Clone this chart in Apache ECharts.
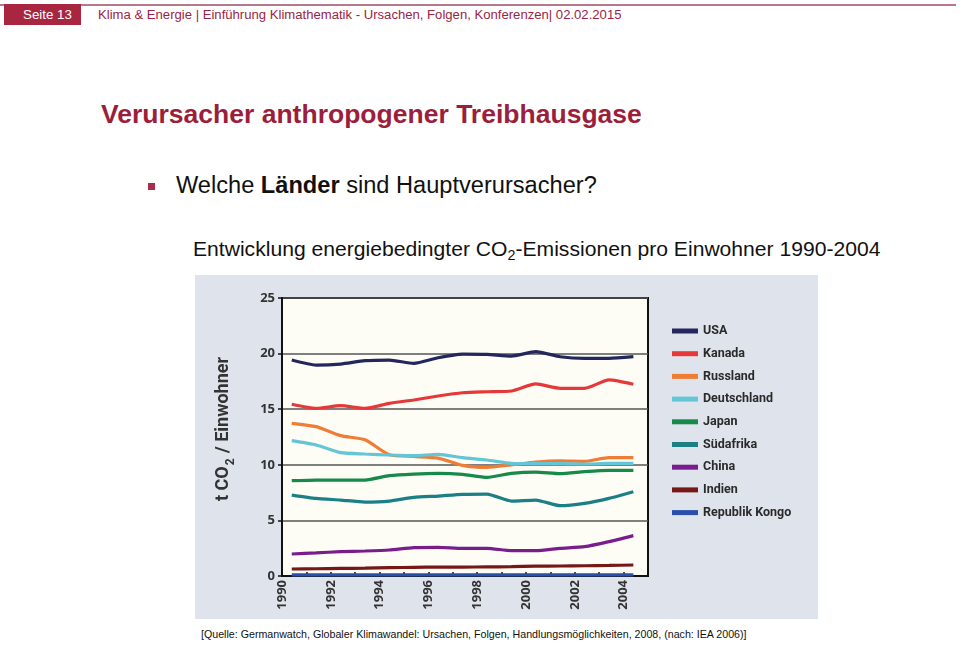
<!DOCTYPE html>
<html><head><meta charset="utf-8">
<script src="https://cdn.jsdelivr.net/npm/echarts@6/dist/echarts.min.js"></script>
<style>
html,body{margin:0;padding:0;background:#fff;width:960px;height:645px;overflow:hidden;}
.t{position:absolute;white-space:nowrap;line-height:1;font-family:"Liberation Sans",Arial,sans-serif;}
#topline{position:absolute;left:0;top:4px;width:956px;height:2px;background:#b7788a;}
#box{position:absolute;left:4px;top:4px;width:77px;height:21px;background:#a8263f;}
#bullet{position:absolute;left:148px;top:183px;width:7px;height:7px;background:#a82f4c;}
#chart{position:absolute;left:195px;top:275px;width:623px;height:344px;background:#dfe4ec;}
</style></head>
<body>
<div id="topline"></div>
<div id="box"></div>
<div class="t" id="seite" style="color:#fff">Seite 13</div>
<div class="t" id="hdr" style="color:#9a2446">Klima &amp; Energie | Einführung Klimathematik - Ursachen, Folgen, Konferenzen| 02.02.2015</div>
<div class="t" id="title" style="color:#9b1f3d;font-weight:bold">Verursacher anthropogener Treibhausgase</div>
<div id="bullet"></div>
<div class="t" id="q" style="color:#111">Welche <b>Länder</b> sind Hauptverursacher?</div>
<div class="t" id="sub" style="color:#111">Entwicklung energiebedingter CO<span style="font-size:0.68em;position:relative;top:0.32em">2</span>-Emissionen pro Einwohner 1990-2004</div>
<div class="t" id="src" style="color:#111">[Quelle: Germanwatch, Globaler Klimawandel: Ursachen, Folgen, Handlungsmöglichkeiten, 2008, (nach: IEA 2006)]</div>
<div id="chart"></div>
<script>
// ---- data ----
const years = [1990,1991,1992,1993,1994,1995,1996,1997,1998,1999,2000,2001,2002,2003,2004];
const countries = ['USA','Kanada','Russland','Deutschland','Japan','Südafrika','China','Indien','Republik Kongo'];
const usa       = [19.42,18.97,19.06,19.36,19.42,19.12,19.63,19.96,19.93,19.78,20.17,19.72,19.57,19.57,19.72];
const kanada    = [15.44,15.08,15.32,15.08,15.53,15.83,16.19,16.48,16.57,16.64,17.27,16.88,16.88,17.63,17.24];
const russland  = [13.73,13.43,12.62,12.25,10.9,10.75,10.6,9.95,9.77,10.0,10.25,10.35,10.3,10.65,10.65];
const deutschland=[12.17,11.78,11.09,10.97,10.88,10.82,10.94,10.64,10.43,10.13,10.1,10.1,10.07,10.12,10.12];
const japan     = [8.57,8.63,8.63,8.63,9.02,9.17,9.23,9.14,8.87,9.23,9.35,9.2,9.38,9.5,9.5];
const suedafrika= [7.28,6.98,6.83,6.65,6.74,7.07,7.19,7.34,7.37,6.74,6.83,6.32,6.53,6.98,7.58];
const china     = [1.98,2.08,2.19,2.25,2.34,2.55,2.58,2.49,2.49,2.28,2.28,2.49,2.64,3.09,3.63];
const indien    = [0.63,0.65,0.68,0.7,0.75,0.78,0.8,0.8,0.82,0.84,0.88,0.9,0.92,0.95,0.99];
const kongo     = [0.1,0.1,0.1,0.1,0.1,0.1,0.1,0.1,0.1,0.1,0.1,0.1,0.1,0.1,0.1];
const seriesValues = [usa,kanada,russland,deutschland,japan,suedafrika,china,indien,kongo];
const colors = ['#24265e','#e63838','#ef7d35','#63c5d6','#17894a','#1b7f86','#7a1d8c','#761818','#2a4faa'];
const yTicks = [0,5,10,15,20,25];
const xLabelYears = [1990,1992,1994,1996,1998,2000,2002,2004];

// ---- slide text placement ----
function place(id, left, baseline, width){
  const el = document.getElementById(id);
  el.style.fontSize = '100px';
  const w = el.getBoundingClientRect().width;
  const size = 100*width/w;
  el.style.fontSize = size+'px';
  el.style.left = left+'px';
  el.style.top = (baseline - 0.8465*size)+'px';
}
place('seite', 23, 19.6, 49);
place('hdr', 98, 19.3, 524);
place('title', 101, 123.3, 541);
place('q', 176, 194.3, 421);
place('sub', 193, 255.7, 688);
place('src', 201, 638.5, 546);

// ---- chart ----
const FF = '"Open Sans","Noto Sans",sans-serif';
const FN = 'Roboto,"Open Sans",sans-serif';
const chart = echarts.init(document.getElementById('chart'), null, {renderer:'canvas'});
const off = 0.4;
chart.setOption({
  animation:false,
  backgroundColor:'#dfe4ec',
  grid:{left:87, top:23, right:170, bottom:43, show:true, backgroundColor:'#fdfdf6', borderColor:'#111', borderWidth:2},
  legend:{
    orient:'vertical', left:477, top:49, padding:0, icon:'rect', itemWidth:26, itemHeight:5, itemGap:8.7,
    data:countries,
    textStyle:{fontFamily:FN, fontWeight:'bold', fontSize:12.5, color:'#2a2a2a', lineHeight:14}
  },
  xAxis:{
    type:'value', min:1990, max:2005, interval:1,
    axisLine:{show:true, onZero:false, lineStyle:{color:'#111', width:2}},
    axisTick:{show:true, inside:true, length:4, lineStyle:{color:'#111', width:1.5}},
    axisLabel:{rotate:90, margin:4, fontFamily:FF, fontWeight:'bold', fontSize:13, color:'#333',
      formatter:v => xLabelYears.includes(v) ? String(v) : ''},
    splitLine:{show:false}
  },
  yAxis:{
    type:'value', min:yTicks[0], max:yTicks[yTicks.length-1], interval:5,
    name:'{a|t CO}{b|2}{a| / Einwohner}', nameLocation:'middle', nameGap:44, nameRotate:90,
    nameTextStyle:{padding:[0,0,0,16], rich:{
      a:{fontFamily:FN, fontWeight:'bold', fontSize:18, color:'#333', lineHeight:24, verticalAlign:'top'},
      b:{fontFamily:FN, fontWeight:'bold', fontSize:12, color:'#333', lineHeight:12, padding:[11,1,0,1], verticalAlign:'top'}
    }},
    axisLine:{show:true, lineStyle:{color:'#111', width:2}},
    axisTick:{show:true, inside:false, length:4, lineStyle:{color:'#111', width:1.5}},
    axisLabel:{margin:7, fontFamily:FF, fontWeight:'bold', fontSize:13, color:'#333'},
    splitLine:{show:true, lineStyle:{color:'#555', width:1.5}}
  },
  series: countries.map((name,i)=>({
    name, type:'line', smooth:0.2, showSymbol:false, color:colors[i],
    lineStyle:{width:3.2, color:colors[i]},
    data: years.map((y,k)=>[y+off, seriesValues[i][k]])
  }))
});
</script>
</body></html>
